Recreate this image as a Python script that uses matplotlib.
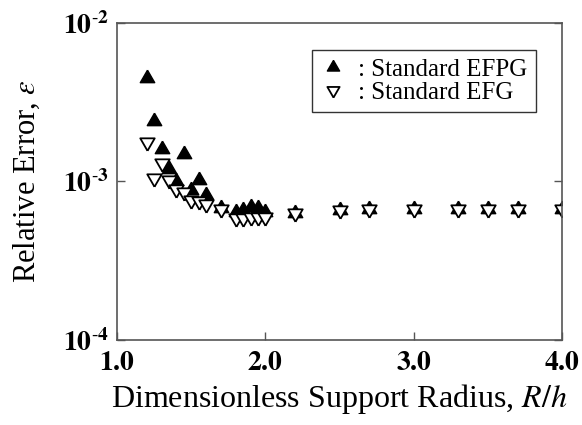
import math
import matplotlib
matplotlib.use("Agg")
import matplotlib.pyplot as plt
from matplotlib.ticker import FixedLocator, FuncFormatter, NullLocator

plt.rcParams['font.family'] = ['Liberation Serif', 'DejaVu Serif']
plt.rcParams['mathtext.fontset'] = 'stix'

# support radius R/h
radius = [1.2, 1.25, 1.3, 1.35, 1.4, 1.45, 1.5, 1.55, 1.6, 1.7,
          1.8, 1.85, 1.9, 1.95, 2.0, 2.2, 2.5, 2.7, 3.0, 3.3, 3.5, 3.7, 4.0]

# Standard EFPG (filled up triangles)
err_efpg = [4.5e-3, 2.4e-3, 1.6e-3, 1.2e-3, 1.0e-3, 1.5e-3, 8.8e-4, 1.02e-3, 8.2e-4, 6.8e-4,
            6.4e-4, 6.6e-4, 6.9e-4, 6.8e-4, 6.4e-4, 6.3e-4, 6.6e-4, 6.7e-4, 6.7e-4, 6.7e-4, 6.7e-4, 6.7e-4, 6.7e-4]

# Standard EFG (open down triangles)
err_efg = [1.78e-3, 1.05e-3, 1.3e-3, 1.02e-3, 8.9e-4, 8.6e-4, 7.6e-4, 7.5e-4, 7.2e-4, 6.7e-4,
           5.9e-4, 5.9e-4, 6.0e-4, 6.0e-4, 5.95e-4, 6.3e-4, 6.6e-4, 6.7e-4, 6.7e-4, 6.7e-4, 6.7e-4, 6.7e-4, 6.7e-4]

x_ticks = [1.0, 2.0, 3.0, 4.0]
y_ticks = [1e-4, 1e-3, 1e-2]

# equilateral triangles centred on their centroid, so up+down overlap as a star
tri_up = [(0, 1), (-0.866, -0.5), (0.866, -0.5), (0, 1)]
tri_down = [(x, -y) for x, y in tri_up]

fig = plt.figure(figsize=(5.82, 4.25), dpi=100)
ax = fig.add_axes([0.201, 0.2, 0.765, 0.746])

ax.plot(radius, err_efpg, linestyle='none', marker=tri_up, ms=12,
        mfc='black', mec='black', label=': Standard EFPG')
ax.plot(radius, err_efg, linestyle='none', marker=tri_down, ms=12,
        mfc='white', mec='black', mew=1.3, label=': Standard EFG')

ax.set_yscale('log')
ax.set_xlim(1.0, 4.0)
ax.set_ylim(1e-4, 1e-2)

ax.xaxis.set_major_locator(FixedLocator(x_ticks))
ax.xaxis.set_minor_locator(NullLocator())
ax.yaxis.set_major_locator(FixedLocator(y_ticks))
ax.yaxis.set_minor_locator(NullLocator())
ax.xaxis.set_major_formatter(FuncFormatter(lambda v, p: r'$\mathbf{%.1f}$' % v))
ax.yaxis.set_major_formatter(FuncFormatter(
    lambda v, p: r'$\mathbf{10^{\text{-}%d}}$' % round(-math.log10(v))))

ax.tick_params(direction='in', length=6, width=1, color='#555555',
               top=False, right=True, labelsize=20)
ax.tick_params(axis='x', pad=8)
ax.tick_params(axis='y', pad=6)
for s in ax.spines.values():
    s.set_color('#555555')
    s.set_linewidth(1.2)

ax.set_xlabel(r'Dimensionless Support Radius, $R/h$', fontsize=23, labelpad=4)
ax.set_ylabel(r'Relative Error, $\varepsilon$', fontsize=22, labelpad=15)

leg = ax.legend(loc='upper right', bbox_to_anchor=(0.942, 0.915), borderaxespad=0,
                fontsize=18, frameon=True, fancybox=False, edgecolor='black',
                markerscale=0.85, handlelength=1.0, handletextpad=0.5,
                borderpad=0.35, labelspacing=0.0)
leg.get_frame().set_linewidth(1.0)

fig.savefig('out.png', dpi=100)
